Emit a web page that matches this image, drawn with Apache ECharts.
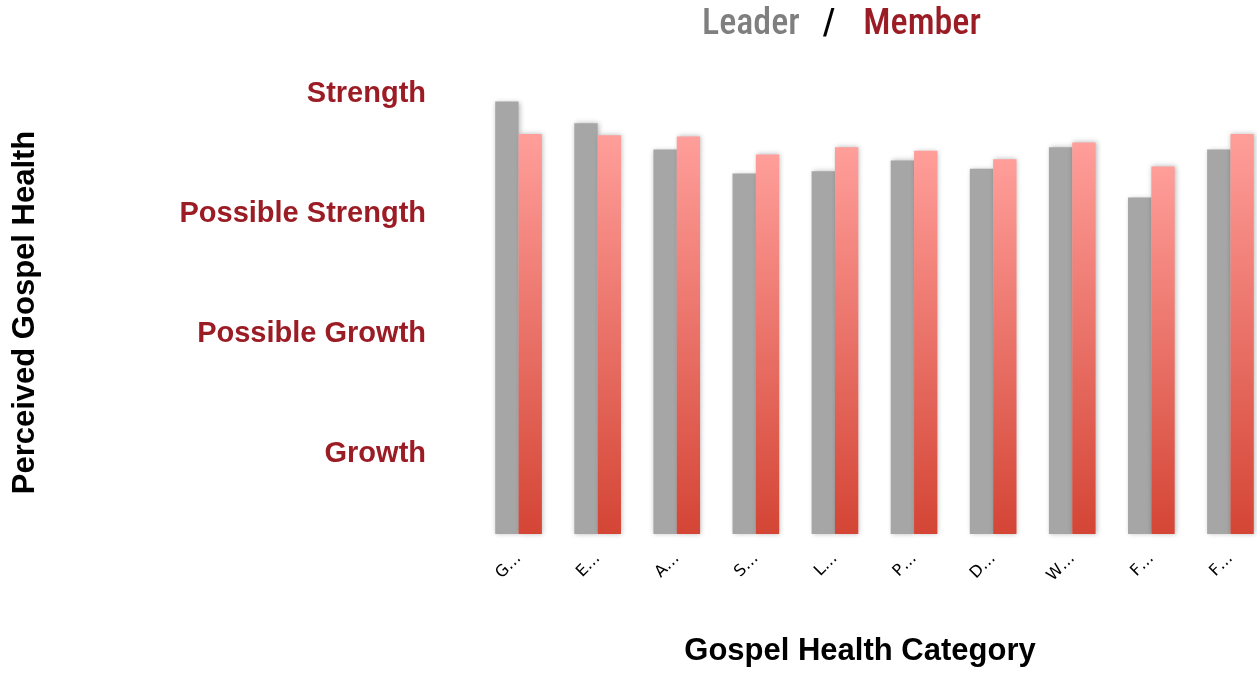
<!DOCTYPE html>
<html><head><meta charset="utf-8">
<script src="https://cdn.jsdelivr.net/npm/echarts@6/dist/echarts.min.js"></script>
<style>html,body{margin:0;padding:0;background:#fff}#c{width:1257px;height:673px}</style>
</head><body><div id="c"></div>
<script>
const categories = ['G…','E…','A…','S…','L…','P…','D…','W…','F…','F…'];
const leader = [3.92, 3.74, 3.52, 3.32, 3.34, 3.43, 3.36, 3.54, 3.12, 3.52];
const member = [3.65, 3.64, 3.63, 3.48, 3.54, 3.51, 3.44, 3.58, 3.38, 3.65];
const levelValues = [1, 2, 3, 4];
const levelLabels = ['Growth', 'Possible Growth', 'Possible Strength', 'Strength'];

const chart = echarts.init(document.getElementById('c'));
const shadow = {shadowBlur: 5, shadowColor: 'rgba(0,0,0,0.28)', shadowOffsetX: 1, shadowOffsetY: 0};
const titleFont = "'Liberation Sans Narrow', 'Roboto Condensed', Roboto";
chart.setOption({
  animation: false,
  title: {
    text: '{l|Leader}{s|/}{m|Member}',
    left: 697, top: 2,
    textStyle: {
      fontWeight: 500,
      rich: {
        l: {fontFamily: titleFont, fontWeight: 500, fontSize: 36, color: '#7f7f7f', padding: [0, 23, 0, 0]},
        s: {fontFamily: titleFont, fontWeight: 500, fontSize: 36, color: '#000', padding: [0, 28, 0, 0]},
        m: {fontFamily: titleFont, fontWeight: 500, fontSize: 36, color: '#9b1c24'}
      }
    }
  },
  grid: {left: 479, right: -13, top: 68, bottom: 139, outerBoundsMode: 'none', containLabel: false},
  xAxis: {
    type: 'category', data: categories,
    axisLine: {show: false}, axisTick: {show: false},
    axisLabel: {rotate: 45, margin: 22, fontFamily: 'DejaVu Sans', fontSize: 16, color: '#000', interval: 0},
    name: 'Gospel Health Category', nameLocation: 'middle', nameGap: 102,
    nameTextStyle: {fontFamily: 'Liberation Sans', fontWeight: 'bold', fontSize: 31, color: '#000', padding: [0, 29, 0, 0]}
  },
  yAxis: {
    type: 'value', min: 0.3167, max: 4.2,
    splitLine: {show: false}, axisLine: {show: false}, axisTick: {show: false},
    axisLabel: {
      customValues: levelValues, margin: 53,
      fontFamily: 'Liberation Sans', fontWeight: 'bold', fontSize: 29, color: '#9b1c24',
      formatter: v => '{a|' + (levelLabels[levelValues.indexOf(Math.round(v))] || '') + '}',
      rich: {a: {fontFamily: 'Liberation Sans', fontWeight: 'bold', fontSize: 29, color: '#9b1c24', padding: [4, 0, 0, 0]}}
    },
    name: 'Perceived Gospel Health', nameLocation: 'middle', nameGap: 438,
    nameTextStyle: {fontFamily: 'Liberation Sans', fontWeight: 'bold', fontSize: 31, color: '#000', padding: [0, 23, 0, 0]}
  },
  series: [
    {type: 'bar', name: 'Leader', data: leader, barGap: '0%', barCategoryGap: '41%',
     itemStyle: Object.assign({color: '#a6a6a6'}, shadow)},
    {type: 'bar', name: 'Member', data: member,
     itemStyle: Object.assign({color: new echarts.graphic.LinearGradient(0, 0, 0, 1, [
       {offset: 0, color: '#ff9e9a'}, {offset: 1, color: '#d44535'}])}, shadow)}
  ]
});
</script></body></html>
